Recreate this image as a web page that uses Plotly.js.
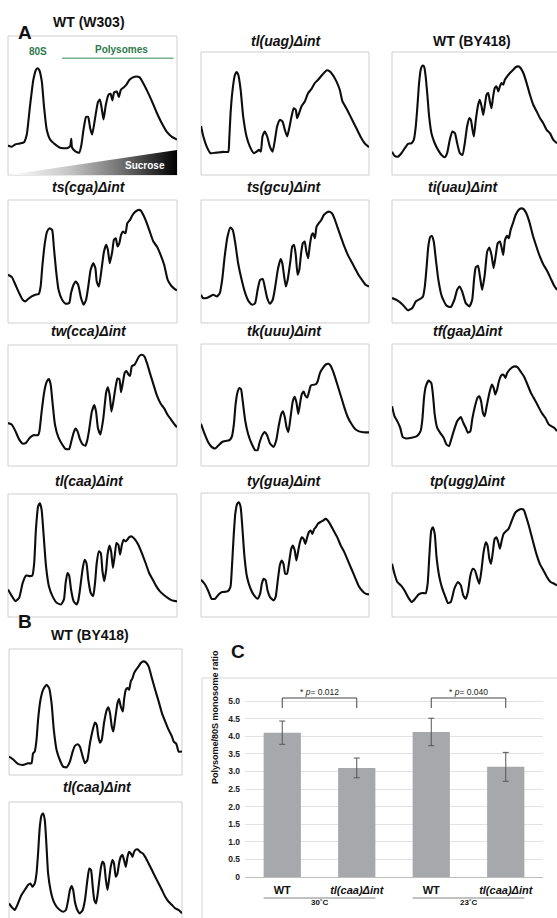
<!DOCTYPE html>
<html><head><meta charset="utf-8">
<script src="https://cdn.plot.ly/plotly-3.0.1.min.js"></script>
<style>html,body{margin:0;padding:0;background:#fff}#chart{width:557px;height:918px}</style>
</head><body><div id="chart"></div>
<script>
// ---------- DATA: polysome profiles, [gradient position %, A254 % of panel height] ----------
const w303 = [[0,21.2],[2.2,20.3],[4.2,22.0],[7.1,22.7],[9.5,23.6],[11.1,29.1],[13.0,49.4],[15.0,68.5],[16.6,75.7],[17.6,76.8],[18.6,75.2],[20.0,67.3],[21.3,49.4],[22.9,32.7],[24.9,25.5],[27.9,22.0],[30.8,19.6],[34.8,19.3],[36.8,20.8],[37.4,26.0],[37.9,19.8],[39.7,17.2],[42.1,16.0],[43.3,20.8],[44.7,32.7],[46.2,41.8],[47.4,41.8],[48.6,33.9],[49.8,29.1],[51.4,39.9],[53.2,52.3],[54.4,54.2],[55.5,47.5],[56.5,39.9],[57.9,50.6],[59.5,57.8],[60.7,58.5],[61.7,53.7],[62.8,59.4],[64.4,60.1],[65.6,56.1],[66.8,61.3],[68.4,63.0],[70.0,64.9],[71.9,68.5],[73.9,70.2],[75.9,70.9],[77.9,70.2],[79.8,66.6],[82.2,60.9],[85.2,53.0],[88.1,44.6],[91.1,37.0],[94.1,30.8],[97.0,27.4],[100,25.5]];
const uag = [[0,39.9],[1.4,31.3],[3.4,23.1],[5.7,17.7],[9.3,18.2],[13.3,18.8],[16.2,18.8],[16.8,28.5],[17.6,50.3],[18.8,69.3],[20.2,81.5],[21.2,83.7],[22.2,81.5],[23.6,69.3],[25.1,47.6],[27.1,31.3],[29.1,23.1],[31.5,17.7],[33.1,19.0],[34.5,20.4],[35.6,19.0],[36.6,31.3],[38.0,35.3],[39.4,31.3],[41.0,23.1],[42.6,19.0],[44.0,28.5],[45.3,39.4],[46.9,44.8],[48.5,43.5],[49.9,36.7],[51.3,31.3],[52.5,38.0],[53.9,47.6],[55.2,54.3],[56.4,53.0],[57.2,46.2],[58.4,50.3],[59.8,55.7],[61.8,59.8],[63.8,66.6],[65.7,69.8],[67.7,74.7],[69.7,77.4],[71.7,80.7],[73.7,83.7],[75.0,85.1],[76.6,84.2],[78.6,81.0],[80.6,76.1],[82.6,69.3],[84.2,59.8],[86.5,54.3],[89.5,46.2],[92.5,38.0],[94.9,31.3],[97.4,25.8],[100,22.6]];
const by418 = [[0,19.0],[1.6,15.5],[3.6,14.9],[5.7,17.7],[7.7,21.7],[9.7,25.3],[11.7,25.8],[13.2,28.5],[14.4,39.4],[15.4,55.7],[16.4,74.7],[17.4,85.6],[18.4,88.9],[19.4,88.3],[20.4,80.2],[21.5,63.9],[22.5,47.6],[23.9,34.0],[25.9,25.8],[27.9,20.4],[30.0,16.3],[32.0,14.4],[33.4,17.7],[35.0,28.5],[36.6,35.3],[38.1,34.0],[39.5,25.8],[41.1,17.7],[42.7,16.3],[44.1,25.8],[45.5,39.4],[46.8,46.2],[47.8,44.8],[48.8,36.7],[49.6,31.3],[50.8,44.8],[52.2,57.1],[53.2,61.1],[54.3,55.7],[55.3,48.9],[56.3,57.1],[57.3,65.2],[58.3,66.6],[59.3,59.8],[60.3,54.3],[61.3,63.9],[62.3,70.7],[63.4,72.0],[64.4,67.9],[65.4,72.0],[66.4,74.7],[67.4,73.4],[68.4,77.4],[69.8,80.2],[71.5,82.9],[73.5,85.6],[75.1,87.8],[76.5,88.3],[77.9,87.0],[79.6,82.9],[81.6,74.7],[83.6,65.2],[85.6,57.1],[87.7,51.6],[89.7,46.2],[91.7,42.1],[93.7,36.7],[95.7,34.0],[97.8,28.5],[100,25.8]];
const cga = [[0,39.2],[2.3,37.3],[4.4,31.1],[6.6,24.3],[8.7,18.9],[10.2,17.6],[11.9,19.5],[14.0,21.6],[16.1,23.0],[18.2,23.5],[19.3,29.7],[20.3,45.9],[21.8,64.9],[23.1,74.3],[24.6,77.0],[26.1,75.7],[27.1,62.2],[28.4,43.2],[29.9,27.0],[32.0,18.9],[34.1,15.7],[36.2,16.2],[37.3,24.3],[38.8,31.1],[40.0,33.8],[41.5,31.1],[43.2,20.3],[44.7,14.9],[46.2,18.9],[47.5,29.7],[48.9,43.2],[50.4,48.6],[51.7,44.6],[52.5,33.8],[53.8,29.7],[55.3,43.2],[56.8,58.1],[58.1,63.5],[59.1,59.5],[60.2,48.6],[61.7,58.1],[62.7,67.6],[63.8,68.9],[64.8,62.2],[65.9,64.9],[66.9,71.6],[68.0,74.3],[69.5,73.0],[70.6,81.1],[72.2,83.8],[73.7,87.8],[75.4,90.5],[77.1,91.9],[78.6,91.4],[80.1,87.8],[81.8,82.4],[83.9,74.3],[86.0,66.2],[88.1,62.2],[90.3,55.4],[92.4,47.3],[94.5,35.1],[96.6,30.3],[98.7,27.6],[100,26.5]];
const gcu = [[0,23.0],[1.1,20.3],[3.2,20.3],[5.3,21.6],[7.4,23.0],[9.5,21.6],[11.2,24.3],[12.6,35.1],[14.1,54.1],[15.8,70.3],[17.5,77.6],[18.9,75.7],[20.4,64.9],[22.1,48.6],[24.2,35.1],[26.3,24.3],[28.4,17.6],[30.5,14.9],[32.2,16.2],[33.7,27.0],[35.2,35.1],[36.8,35.7],[37.9,29.7],[39.4,20.3],[41.1,15.7],[42.7,18.9],[44.2,29.7],[45.7,43.2],[47.4,51.9],[48.4,48.6],[49.5,37.8],[50.5,29.7],[51.6,35.1],[53.3,51.4],[54.3,62.2],[55.4,63.5],[56.4,55.4],[57.5,39.2],[58.5,43.2],[59.6,56.8],[60.6,64.9],[61.7,66.2],[62.7,58.1],[63.8,52.7],[64.8,63.5],[65.9,71.6],[66.7,73.0],[67.8,68.9],[68.8,78.4],[70.1,81.1],[71.6,83.8],[73.1,87.8],[74.7,89.7],[76.4,90.5],[77.9,89.2],[79.4,85.1],[81.1,78.4],[83.2,70.3],[85.3,62.2],[87.4,55.4],[89.5,50.0],[91.6,44.6],[93.7,39.2],[95.8,35.1],[97.9,31.1],[100,29.7]];
const uau = [[0,20.3],[3.2,18.4],[6.5,14.9],[9.7,10.3],[12.3,12.2],[14.5,17.6],[17.3,19.7],[18.8,21.6],[19.9,29.7],[21.0,45.9],[22.0,62.2],[23.1,69.7],[24.2,70.8],[25.3,66.2],[26.6,51.4],[28.1,35.1],[30.2,21.6],[33.0,14.1],[35.6,13.0],[37.8,18.9],[39.5,27.0],[41.0,29.7],[42.5,25.7],[44.7,16.2],[46.9,13.5],[48.6,18.9],[49.7,35.1],[50.8,45.4],[52.1,46.5],[53.3,37.8],[54.6,27.0],[56.2,39.2],[57.7,58.1],[59.0,61.4],[60.3,55.4],[61.6,44.6],[62.9,55.4],[64.1,64.9],[65.4,66.2],[66.5,60.8],[67.4,55.4],[68.5,67.6],[69.8,70.8],[70.8,68.9],[71.9,75.7],[73.4,81.6],[74.9,87.8],[76.7,91.9],[78.4,93.2],[79.9,92.4],[81.4,89.2],[83.2,82.4],[85.3,71.6],[87.5,62.2],[89.6,54.1],[91.8,47.3],[93.9,42.7],[96.1,36.5],[98.3,30.3],[100,27.0]];
const cca = [[0,35.5],[2.3,34.1],[4.4,28.8],[6.6,22.0],[8.7,18.5],[10.8,19.4],[12.9,23.4],[15.0,25.5],[17.8,25.5],[18.6,28.8],[19.9,44.9],[21.4,61.0],[22.9,69.6],[24.2,71.8],[25.2,67.7],[26.3,53.0],[27.8,34.1],[29.9,23.4],[32.0,18.0],[34.1,14.0],[36.2,14.0],[37.3,19.4],[38.8,27.4],[40.0,30.9],[41.1,28.8],[42.6,22.0],[44.1,18.0],[45.8,16.7],[46.8,20.7],[47.9,28.8],[49.6,44.9],[51.1,50.3],[52.1,44.9],[53.2,31.5],[54.7,26.1],[56.4,39.5],[58.1,61.0],[59.1,65.1],[60.2,58.3],[61.2,44.9],[62.3,53.0],[63.8,66.4],[64.8,72.3],[65.9,71.8],[66.9,61.0],[68.0,69.1],[69.1,77.2],[70.1,78.5],[71.2,75.8],[72.2,74.5],[73.3,82.5],[75.0,83.9],[76.5,87.9],[77.5,90.6],[79.2,91.9],[80.7,90.6],[82.2,85.2],[83.9,77.2],[86.0,67.7],[88.1,58.3],[90.3,51.6],[92.4,47.6],[94.5,42.2],[96.6,38.2],[98.7,34.1],[100,32.0]];
const uuu = [[0,34.6],[2.1,26.5],[4.2,19.7],[6.3,15.7],[8.4,14.3],[10.5,17.0],[12.6,19.7],[14.7,20.5],[16.8,21.1],[18.3,23.8],[19.6,34.6],[20.6,50.8],[21.7,60.3],[22.7,63.8],[23.8,63.0],[24.8,53.5],[26.3,37.3],[28.0,26.5],[30.1,18.4],[32.2,13.0],[33.7,13.0],[34.7,18.4],[36.4,25.1],[37.9,27.8],[39.4,25.1],[41.1,18.4],[43.2,15.7],[44.8,21.1],[46.3,33.2],[47.8,42.7],[48.8,44.9],[49.9,40.0],[50.9,31.9],[52.0,27.8],[53.3,40.0],[54.7,53.5],[55.8,56.8],[56.8,52.2],[57.9,42.7],[58.9,50.8],[60.0,58.9],[61.1,61.1],[62.1,57.6],[63.2,56.2],[64.2,60.3],[65.3,65.7],[66.3,66.5],[68.4,67.0],[69.5,69.7],[70.9,76.5],[72.6,80.5],[74.3,83.2],[75.8,83.8],[77.3,81.9],[78.9,76.5],[81.1,67.0],[83.2,57.6],[85.3,48.1],[87.4,40.0],[89.5,34.6],[91.6,30.5],[93.7,28.6],[95.8,27.8],[97.9,27.6],[100,27.6]];
const gaa = [[0,49.0],[1.5,40.9],[3.2,36.8],[5.0,31.3],[6.5,23.7],[8.6,22.6],[11.9,23.2],[15.1,24.5],[17.3,28.6],[18.4,38.1],[19.4,55.9],[20.5,65.4],[22.2,70.0],[23.8,68.1],[24.8,58.6],[25.9,42.2],[27.4,31.3],[29.2,27.2],[31.3,23.2],[33.0,17.7],[34.6,16.3],[35.6,20.4],[37.4,28.6],[39.5,36.8],[41.7,40.1],[43.2,35.4],[44.7,31.3],[46.0,27.2],[47.5,28.6],[48.6,38.1],[50.3,49.0],[51.8,55.9],[52.9,57.2],[54.0,53.1],[55.1,43.6],[56.2,40.9],[57.2,47.7],[59.0,59.9],[60.5,66.8],[61.6,64.0],[62.6,58.6],[63.7,62.7],[64.8,69.5],[66.3,74.4],[67.6,74.9],[68.7,72.2],[69.8,76.3],[71.3,79.0],[72.8,80.9],[74.5,81.7],[76.2,80.9],[77.8,77.7],[79.9,73.6],[82.1,66.8],[84.2,59.9],[86.4,54.5],[88.6,49.0],[90.7,43.6],[92.9,39.5],[95.0,34.1],[96.5,32.7],[98.3,31.3],[100,28.6]];
const caa = [[0,22.4],[2.3,17.0],[4.4,12.9],[6.6,15.6],[8.7,27.8],[10.8,33.7],[12.9,33.2],[14.4,33.7],[15.5,43.9],[16.5,70.9],[17.8,89.8],[18.9,92.5],[19.9,87.1],[21.0,68.2],[22.5,41.2],[24.2,25.1],[26.3,17.0],[28.8,11.6],[31.4,10.2],[33.1,14.3],[34.1,27.8],[35.2,35.8],[36.2,33.7],[37.3,22.4],[38.8,12.9],[40.5,10.2],[41.5,12.9],[42.6,22.4],[44.1,38.5],[45.3,46.6],[46.4,43.9],[47.5,30.5],[48.9,19.7],[50.4,17.0],[51.5,27.8],[52.5,43.9],[53.8,53.4],[54.9,52.0],[55.9,37.2],[57.0,29.1],[58.1,38.5],[58.9,50.7],[60.0,58.0],[61.0,53.4],[62.1,39.9],[63.1,49.3],[64.2,60.1],[65.3,58.8],[66.3,50.7],[67.4,58.8],[68.4,62.8],[69.5,61.5],[70.6,62.8],[71.6,64.7],[73.3,65.5],[75.0,63.3],[77.1,58.8],[79.2,52.0],[81.4,43.9],[83.5,35.8],[85.6,30.5],[87.7,25.1],[89.8,21.0],[91.9,18.3],[94.5,15.6],[97.0,13.5],[100,12.7]];
const gua = [[0,30.0],[2.1,26.8],[4.2,21.4],[6.3,14.7],[8.4,14.7],[10.5,18.2],[12.6,20.1],[15.8,20.6],[17.5,24.1],[18.3,37.5],[19.4,64.3],[20.4,83.1],[21.5,91.2],[22.5,92.5],[23.6,88.5],[24.6,72.4],[25.9,48.3],[27.4,32.2],[29.5,22.8],[31.6,17.4],[33.7,14.7],[35.2,18.8],[36.2,26.8],[37.3,30.8],[38.5,29.5],[39.6,21.4],[41.1,16.1],[43.2,13.4],[44.4,16.1],[45.7,29.5],[46.9,41.6],[48.0,45.6],[49.1,42.9],[50.1,34.9],[51.2,34.9],[52.6,45.6],[53.7,55.0],[54.7,57.6],[55.8,53.6],[56.8,45.6],[57.9,53.6],[58.9,60.3],[60.0,64.3],[61.1,63.0],[62.1,59.0],[63.2,64.3],[64.2,68.4],[65.3,69.7],[66.3,67.0],[67.4,71.0],[68.4,72.4],[69.5,75.1],[70.9,76.4],[72.6,77.7],[74.1,79.1],[75.2,78.3],[76.8,75.1],[78.9,69.7],[81.1,64.3],[83.2,57.6],[85.3,52.3],[87.4,45.6],[89.5,38.9],[91.6,32.2],[93.7,25.5],[95.8,21.4],[97.9,18.8],[100,18.2]];
const ugg = [[0,42.9],[1.5,34.9],[3.2,28.2],[5.4,25.5],[7.6,21.4],[9.7,16.1],[11.9,12.1],[14.0,14.7],[16.2,18.2],[18.4,19.3],[20.5,19.3],[21.6,26.8],[22.7,50.9],[23.8,69.7],[24.8,72.4],[25.9,67.0],[27.0,48.3],[28.7,32.2],[30.2,24.1],[32.4,16.1],[33.9,11.3],[35.6,12.1],[37.8,22.8],[40.0,28.2],[41.7,25.5],[43.2,17.4],[44.7,14.7],[46.0,20.1],[47.5,33.5],[49.0,38.9],[50.3,37.5],[51.8,30.8],[52.9,26.8],[54.2,37.5],[55.5,52.3],[56.8,60.3],[57.9,57.6],[59.0,46.9],[60.0,42.9],[61.1,52.3],[62.2,63.0],[63.3,64.3],[64.4,60.3],[65.4,55.0],[66.5,61.7],[67.6,67.0],[69.1,69.2],[70.6,71.0],[71.9,75.1],[73.4,80.4],[74.9,84.5],[76.7,86.3],[78.4,87.1],[79.9,86.3],[81.4,80.4],[83.2,72.4],[85.3,61.7],[87.5,50.9],[89.6,42.9],[91.8,37.5],[93.9,32.2],[96.1,28.2],[98.3,26.8],[100,25.5]];
const bWt = [[0,14.6],[2.3,12.5],[5.2,8.8],[8.1,8.0],[11.0,9.3],[13.0,9.3],[13.9,17.2],[14.9,18.6],[15.9,27.9],[16.8,43.8],[18.2,59.7],[19.7,67.6],[21.7,71.6],[23.2,69.0],[24.6,57.0],[25.9,35.8],[27.5,19.9],[29.4,11.9],[31.3,6.6],[33.3,6.1],[35.2,10.6],[36.8,18.6],[38.1,23.1],[39.7,24.4],[41.0,22.5],[42.6,14.6],[43.9,9.3],[45.3,11.9],[46.8,25.2],[48.4,35.8],[49.7,41.6],[50.7,39.8],[51.6,30.5],[52.6,25.7],[53.6,27.9],[54.9,41.1],[56.5,51.7],[57.4,53.8],[58.4,49.1],[59.4,38.5],[60.3,34.5],[61.3,43.8],[62.7,57.0],[63.6,60.2],[64.6,54.4],[65.8,50.4],[66.5,59.7],[67.5,67.6],[68.5,69.0],[69.4,67.6],[70.4,74.3],[71.4,76.9],[72.3,80.9],[73.5,83.6],[74.9,86.2],[76.2,88.9],[77.8,90.2],[79.1,89.4],[80.7,86.2],[82.6,76.9],[84.5,67.6],[86.5,58.4],[88.4,49.1],[90.3,42.4],[92.3,35.8],[94.2,30.5],[95.2,26.5],[96.7,24.7],[98.1,18.6],[100,18.6]];
const bCaa = [[0,12.6],[1.4,9.7],[3.3,6.9],[5.2,12.6],[7.2,19.8],[9.1,24.1],[11.0,28.4],[12.4,29.8],[13.5,26.9],[14.9,29.8],[15.9,38.4],[16.8,55.6],[17.8,78.5],[18.8,88.5],[19.7,90.0],[20.7,84.2],[21.7,61.3],[22.6,38.4],[24.0,24.1],[25.5,15.5],[27.5,9.7],[29.4,6.9],[31.3,5.4],[32.9,6.9],[34.2,15.5],[35.2,24.1],[36.2,27.5],[37.1,24.1],[38.1,14.0],[39.5,6.9],[41.0,4.0],[42.6,6.9],[43.9,15.5],[45.3,32.7],[46.4,42.7],[47.4,41.3],[48.4,26.9],[49.3,15.5],[50.3,12.6],[51.3,21.2],[52.2,32.7],[53.2,44.1],[54.0,48.4],[54.9,47.0],[55.9,34.1],[56.9,24.1],[57.8,32.7],[58.8,44.1],[59.8,49.9],[60.7,47.0],[61.7,35.5],[62.7,38.4],[63.6,47.0],[64.6,52.7],[65.6,54.2],[66.5,49.9],[67.5,44.1],[68.5,52.7],[69.4,57.0],[70.4,55.6],[71.4,52.7],[72.3,57.0],[73.3,59.0],[74.5,59.0],[75.8,57.0],[77.4,55.6],[78.7,52.7],[80.7,47.0],[82.6,41.3],[84.5,35.5],[86.5,29.8],[88.4,24.1],[90.3,18.3],[92.3,14.0],[94.2,11.2],[96.1,8.3],[98.1,6.9],[100,4.0]];

const panelTitles = ['WT (W303)','tl(uag)Δint','WT (BY418)','ts(cga)Δint','ts(gcu)Δint','ti(uau)Δint','tw(cca)Δint','tk(uuu)Δint','tf(gaa)Δint','tl(caa)Δint','ty(gua)Δint','tp(ugg)Δint','WT (BY418)','tl(caa)Δint'];

// ---------- DATA: bar chart (panel C) ----------
const barCats = ['WT','tl(caa)Δint','WT','tl(caa)Δint'];
const barVals = [4.10, 3.10, 4.12, 3.13];
const barErr = [0.33, 0.28, 0.39, 0.41];
const tempGroups = ['30˚C','23˚C'];
const pValues = ['0.012','0.040'];
const yTickVals = [0,0.5,1.0,1.5,2.0,2.5,3.0,3.5,4.0,4.5,5.0];
const yTickText = ['0','0.5','1.0','1.5','2.0','2.5','3.0','3.5','4.0','4.5','5.0'];

// ---------- LAYOUT (pixel geometry) ----------
const W = 557, H = 918;
const px = v => v / W;
const py = v => 1 - v / H;
const FONT = 'Liberation Sans, Arial, sans-serif';
const profiles = [w303, uag, by418, cga, gcu, uau, cca, uuu, gaa, caa, gua, ugg, bWt, bCaa];
// plot-area boxes [x0,y0,x1,y1] in px
const boxes = [[8,36,177,175],[201,52,369,175],[392,52,557,175],
               [8,200,177,323],[201,200,369,323],[392,200,557,323],
               [8,345,177,466],[201,344,369,466],[392,344,557,466],
               [8,494,177,617],[201,493,369,617],[392,493,557,617],
               [9,649,182,775],[9,802,182,918]];
const titlePos = [[89,22],[286,41],[472,41],[89,187],[284,187],[463,187],[89,331],[284,331],[468,331],[89,481],[284,481],[468,481],[90,635],[97,787]];

const traces = [];
const layout = {
  width: W, height: H, margin: {l:0,r:0,t:0,b:0},
  paper_bgcolor: '#fff', plot_bgcolor: 'rgba(0,0,0,0)', showlegend: false,
  font: {family: FONT, color: '#111'},
  annotations: [], shapes: []
};

// sucrose gradient wedge in first panel
traces.push({
  type: 'scatter', mode: 'lines', x: [0,100,100,0], y: [0,18,0,0],
  fill: 'toself', line: {width: 0, color: 'rgba(0,0,0,0)'},
  fillgradient: {type: 'horizontal', colorscale: [[0,'#ffffff'],[0.35,'#c8c8c8'],[0.65,'#777777'],[1,'#000000']]},
  xaxis: 'x', yaxis: 'y', hoverinfo: 'skip'
});

profiles.forEach((prof, i) => {
  const s = i === 0 ? '' : String(i + 1);
  const b = boxes[i];
  traces.push({
    type: 'scatter', mode: 'lines',
    x: prof.map(p => p[0]), y: prof.map(p => p[1]),
    line: {color: '#0d0d0d', width: 2.1, shape: 'spline', smoothing: 0.5},
    xaxis: 'x' + s, yaxis: 'y' + s, hoverinfo: 'skip'
  });
  layout['xaxis' + s] = {domain: [px(b[0]), px(b[2])], range: [0,100], visible: false, anchor: 'y' + s, fixedrange: true};
  layout['yaxis' + s] = {domain: [py(b[3]), py(b[1])], range: [0,100], visible: false, anchor: 'x' + s, fixedrange: true};
  const right = b[2] >= W ? 620 : b[2];
  const bottom = b[3] >= H ? 960 : b[3];
  layout.shapes.push({type:'rect', xref:'paper', yref:'paper', x0: px(b[0]), x1: px(right), y0: py(bottom), y1: py(b[1]), line:{color:'#cfcfcf', width:1}, layer:'below'});
  const t = panelTitles[i];
  const txt = t.includes('Δ') ? '<b><i>' + t + '</i></b>' : '<b>' + t + '</b>';
  layout.annotations.push({xref:'paper', yref:'paper', x: px(titlePos[i][0]), y: py(titlePos[i][1]), text: txt, showarrow:false, xanchor:'center', yanchor:'middle', font:{family: FONT, size: 14, color:'#111'}});
});

// labels inside first panel
layout.annotations.push(
  {xref:'x', yref:'y', x:18, y:89, text:'<b>80S</b>', showarrow:false, font:{family:FONT, size:10, color:'#2d7a4b'}},
  {xref:'x', yref:'y', x:67, y:90.5, text:'<b>Polysomes</b>', showarrow:false, font:{family:FONT, size:10, color:'#2d7a4b'}},
  {xref:'x', yref:'y', x:81, y:7, text:'<b>Sucrose</b>', showarrow:false, font:{family:FONT, size:10, color:'#ffffff'}}
);
layout.shapes.push({type:'line', xref:'x', yref:'y', x0:32, x1:98, y0:84, y1:84, line:{color:'#79b08e', width:1.3}});

// panel letters
layout.annotations.push(
  {xref:'paper', yref:'paper', x:px(16), y:py(20), text:'<b>A</b>', showarrow:false, font:{family:FONT, size:19, color:'#111'}},
  {xref:'paper', yref:'paper', x:px(16), y:py(634), text:'<b>B</b>', showarrow:false, font:{family:FONT, size:19, color:'#111'}},
  {xref:'paper', yref:'paper', x:px(238), y:py(664), text:'<b>C</b>', showarrow:false, font:{family:FONT, size:19, color:'#111'}}
);

// ---------- bar chart ----------
const bx = 'x15', by = 'y15';
const barX = barCats.map((c, i) => i);
traces.push({
  type: 'bar', x: barX, y: barVals, width: 0.5,
  marker: {color: '#a7a8ab', line: {width: 0}},
  error_y: {type: 'data', array: barErr, visible: true, color: '#555', thickness: 1, width: 3},
  xaxis: bx, yaxis: by, hoverinfo: 'skip'
});
const unit = 35.2;
layout.xaxis15 = {domain: [px(245), px(543)], range: [-0.5, 3.5], anchor: by,
  tickvals: barX, ticktext: barCats.map(c => c.includes('Δ') ? '<b><i>' + c + '</i></b>' : '<b>' + c + '</b>'),
  tickfont: {family: FONT, size: 11, color: '#111'}, ticks: '', showgrid: false, zeroline: false,
  showline: true, linecolor: '#bdbdbd', linewidth: 1, ticklabelstandoff: 3, fixedrange: true};
layout.yaxis15 = {domain: [py(877), py(877 - 5.3 * unit)], range: [0, 5.3], anchor: bx,
  tickvals: yTickVals, ticktext: yTickText.map(t => '<b>' + t + '</b>'),
  tickfont: {family: FONT, size: 8.5, color: '#222'}, ticks: '', showgrid: true, gridcolor: '#e2e2e2', gridwidth: 1,
  zeroline: false, showline: false, ticklabelstandoff: 4, fixedrange: true};
// panel C frame
layout.shapes.push({type:'rect', xref:'paper', yref:'paper', x0: px(202), x1: px(620), y0: py(960), y1: py(678), line:{color:'#d5d5d5', width:1}, layer:'below'});
// y title
layout.annotations.push({xref:'paper', yref:'paper', x: px(215), y: py(786), text:'<b>Polysome/80S monosome ratio</b>', textangle: -90, showarrow:false, font:{family:FONT, size:9, color:'#111'}});
// temperature groups
tempGroups.forEach((g, k) => {
  const c = 2 * k + 0.5;
  layout.shapes.push({type:'line', xref: bx, yref:'paper', x0: c - 0.75, x1: c + 0.75, y0: py(898), y1: py(898), line:{color:'#666', width:0.8}});
  layout.annotations.push({xref: bx, yref:'paper', x: c, y: py(909), text:'<b>' + g + '</b>', showarrow:false, font:{family:FONT, size:8, color:'#111'}});
  // significance bracket
  layout.shapes.push({type:'path', xref: bx, yref: by, path: `M ${2*k},4.80 L ${2*k},5.085 L ${2*k+1},5.085 L ${2*k+1},4.80`, line:{color:'#444', width:1}});
  layout.annotations.push({xref: bx, yref: by, x: c, y: 5.27, text:'* <i>p</i>= ' + pValues[k], showarrow:false, font:{family:FONT, size:8.5, color:'#222'}});
});

Plotly.newPlot('chart', traces, layout, {staticPlot: true, displayModeBar: false});
</script></body></html>
